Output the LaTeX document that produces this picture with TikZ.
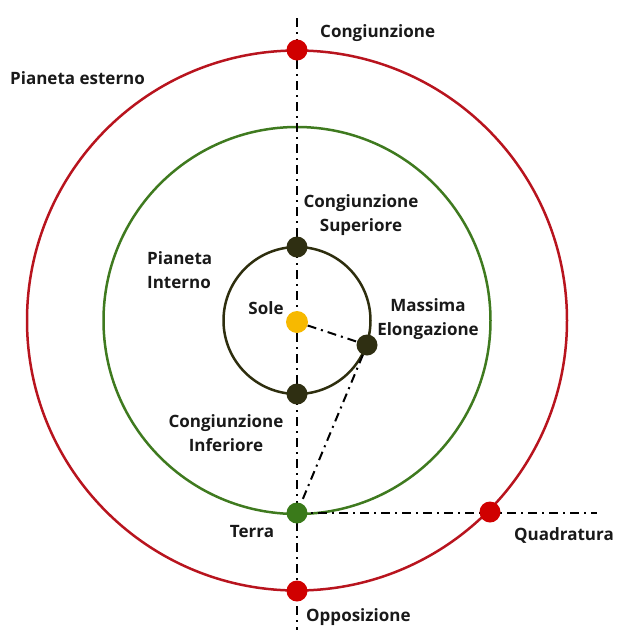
\documentclass[tikz,border=0pt]{standalone}
\usepackage{fontspec}
\setmainfont{Open Sans}
\usetikzlibrary{backgrounds}
\definecolor{redline}{HTML}{B8141E}
\definecolor{reddot}{HTML}{D00000}
\definecolor{greenline}{HTML}{3F7A1F}
\definecolor{greendot}{HTML}{3A7A1A}
\definecolor{darkline}{HTML}{2E2E0E}
\definecolor{darkdot}{HTML}{2F2F12}
\definecolor{sunc}{HTML}{F7B900}
\begin{document}
\begin{tikzpicture}[x=1pt,y=-1pt,
  lbl/.style={font=\fontsize{17}{24}\selectfont\bfseries, text=black!90, inner sep=0pt, align=center},
  dd/.style={line width=2pt, black, dash pattern=on 9pt off 5pt on 2pt off 5pt},
  orbit/.style={line width=2.5pt},
  dot/.style={circle, inner sep=0pt, minimum size=21pt}]
\useasboundingbox (0,0) rectangle (620,630);
\coordinate (C) at (297,320.5);
\coordinate (top) at (297,18);
\coordinate (bot) at (297,630);
\coordinate (qend) at (597,513);
% dots
\node[dot, fill=reddot] (cong) at (297,50) {};
\node[dot, fill=reddot] (opp) at (297,591) {};
\node[dot, fill=reddot] (quad) at (490,512) {};
\node[dot, fill=greendot] (terra) at (297,513) {};
\node[dot, fill=darkdot] (csup) at (297,247) {};
\node[dot, fill=darkdot] (cinf) at (297,394) {};
\node[dot, fill=darkdot] (mel) at (367,345) {};
\node[dot, fill=sunc, minimum size=22pt] (sun) at (297,322) {};
\begin{pgfonlayer}{background}
\draw[orbit, redline] (C) circle (270);
\draw[orbit, greenline] (C) circle (193.5);
\draw[orbit, darkline] (C) circle (73.5);
\draw[dd] (top) -- (bot);
\draw[dd] (terra.center) -- (qend);
\draw[dd] (sun) -- (mel);
\draw[dd] (mel) -- (terra);
\end{pgfonlayer}
% labels
\node[lbl, anchor=west] (lcong) at (320,33) {Congiunzione};
\node[lbl, anchor=west] (lpe) at (10,78) {Pianeta esterno};
\node[lbl] (lcsup) at (361,215) {Congiunzione\\Superiore};
\node[lbl, anchor=west, align=left] (lpi) at (147,270) {Pianeta\\Interno};
\node[lbl] (lsole) at (266,308) {Sole};
\node[lbl] (lmel) at (428,319) {Massima\\Elongazione};
\node[lbl] (lcinf) at (226,433) {Congiunzione\\Inferiore};
\node[lbl] (lterra) at (252,532) {Terra};
\node[lbl] (lquad) at (564,535) {Quadratura};
\node[lbl, anchor=west] (lopp) at (306,617) {Opposizione};
\end{tikzpicture}
\end{document}
